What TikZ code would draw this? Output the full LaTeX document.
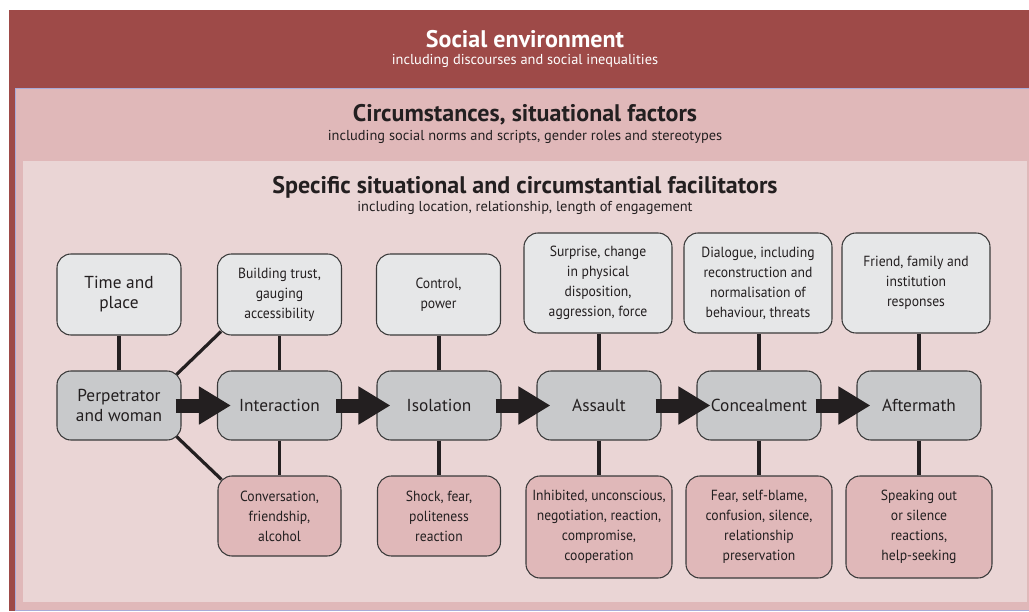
\documentclass[tikz,border=0pt]{standalone}
\usepackage{fontspec}
\setmainfont{PT Sans}
\newfontfamily\narrowfont{PT Sans}[FakeStretch=0.93]
\usetikzlibrary{arrows.meta}
\definecolor{envred}{HTML}{9E4A48}
\definecolor{circpink}{HTML}{E0B8B9}
\definecolor{facpink}{HTML}{EAD5D5}
\definecolor{edgeblue}{HTML}{A9ABD9}
\definecolor{topgrey}{HTML}{E6E7E8}
\definecolor{midgrey}{HTML}{C8C9CB}
\definecolor{ink}{HTML}{231F20}
\definecolor{boxline}{HTML}{3A3A3A}
\begin{document}
\begin{tikzpicture}[x=0.75pt, y=-0.75pt,
        box/.style={draw=boxline, line width=0.8pt, rounded corners=10.5pt, align=center,
            text=ink, inner sep=2pt, font=\narrowfont\fontsize{11}{15}\selectfont},
        cause/.style={box, fill=topgrey, minimum width=93pt, minimum height=60.75pt},
        causewide/.style={box, fill=topgrey, minimum width=111pt, minimum height=75pt},
        stage/.style={box, fill=midgrey, minimum width=93pt, minimum height=51.75pt,
            font=\fontsize{13}{14.5}\selectfont},
        effect/.style={box, fill=circpink, minimum width=92.25pt, minimum height=60pt},
        effectwide/.style={box, fill=circpink, minimum width=109.5pt, minimum height=76.5pt},
        title/.style={font=\bfseries\fontsize{18}{20}\selectfont, text=ink},
        subtitle/.style={font=\fontsize{10.8}{12}\selectfont, text=ink},
        link/.style={ink, line width=2.4pt},
        flow/.style={ink, line width=10.5pt, -{Triangle[length=24pt, width=27pt]}}]
        \useasboundingbox (0,0) rectangle (1029,611);
        % Layers of context
        \fill[envred] (9,10) rectangle (1029,611);
        \fill[circpink] (15,88) rectangle (1029,610);
        \draw[edgeblue, line width=0.75pt] (1029,88) -- (15,88) -- (15,610) -- (1029,610);
        \fill[facpink] (23,161) rectangle (1027,602);

        \node[title, text=white] (envtitle) at (525,39) {Social environment};
        \node[subtitle, text=white] (envsub) at (525,61) {including discourses and social inequalities};
        \node[title] (circtitle) at (525,115) {Circumstances, situational factors};
        \node[subtitle] (circsub) at (525,137) {including social norms and scripts, gender roles and stereotypes};
        \node[title] (factitle) at (525,187) {Specific situational and circumstantial facilitators};
        \node[subtitle] (facsub) at (525,208) {including location, relationship, length of engagement};

        % Facilitators (top row)
        \node[cause, font=\fontsize{13}{15}\selectfont] (time) at (119,294.5) {Time and\\place};
        \node[cause] (trust) at (279.5,294.5) {Building trust,\\gauging\\accessibility};
        \node[cause] (control) at (438.5,294.5) {Control,\\power};
        \node[causewide] (surprise) at (598,283) {Surprise, change\\in physical\\disposition,\\aggression, force};
        \node[causewide] (dialogue) at (758,283) {Dialogue, including\\reconstruction and\\normalisation of\\behaviour, threats};
        \node[causewide] (friend) at (916,283) {Friend, family and\\institution\\responses};

        % Stages (middle row)
        \node[stage] (perp) at (119,405.5) {Perpetrator\\and woman};
        \node[stage] (inter) at (279.5,405.5) {Interaction};
        \node[stage] (isol) at (439,405.5) {Isolation};
        \node[stage] (assault) at (599,405.5) {Assault};
        \node[stage] (conceal) at (759,405.5) {Concealment};
        \node[stage] (after) at (919,405.5) {Aftermath};

        % Responses (bottom row)
        \node[effect] (conv) at (279.5,516) {Conversation,\\friendship,\\alcohol};
        \node[effect] (shock) at (439,516) {Shock, fear,\\politeness\\reaction};
        \node[effectwide] (inhib) at (599,527) {Inhibited, unconscious,\\negotiation, reaction,\\compromise,\\cooperation};
        \node[effectwide] (fear) at (759,527) {Fear, self-blame,\\confusion, silence,\\relationship\\preservation};
        \node[effectwide] (speak) at (919,527) {Speaking out\\or silence\\reactions,\\help-seeking};

        % Edges
        \foreach \a/\b in {time/perp, trust/inter, control/isol, surprise/assault, dialogue/conceal, friend/after}
            \draw[link] (\b.north) -- (\b.north |- \a.south);
        \foreach \a/\b in {inter/conv, isol/shock, assault/inhib, conceal/fear, after/speak}
            \draw[link] (\a.south) -- (\a.south |- \b.north);
        \draw[link] ([shift={(-5,4)}]perp.north east) -- ([shift={(4,-4)}]trust.south west);
        \draw[link] ([shift={(-5,-4)}]perp.south east) -- ([shift={(4,4)}]conv.north west);

        % Arrows
        \foreach \a/\b in {perp/inter, inter/isol, isol/assault, assault/conceal, conceal/after}
            \draw[flow] ([xshift=-4.5pt]\a.east) -- ([xshift=10.5pt]\b.west);
    \end{tikzpicture}
\end{document}
